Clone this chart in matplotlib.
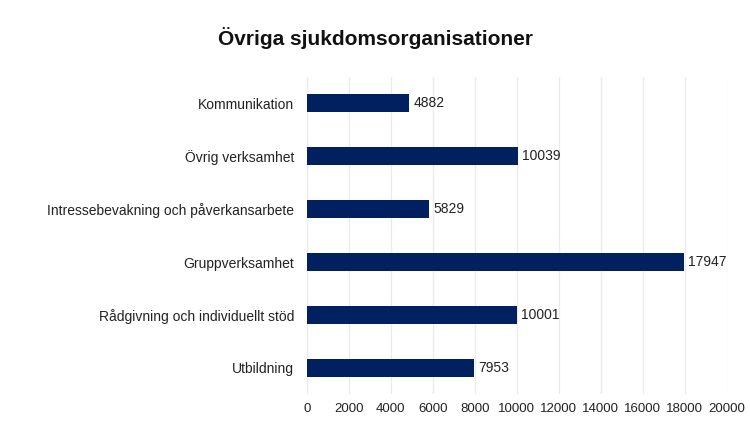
import numpy as np
import matplotlib.pyplot as plt

plt.rcParams['font.family'] = ['Liberation Sans', 'DejaVu Sans']

# Données
kategorier = ['Kommunikation', 'Övrig verksamhet', 'Intressebevakning och påverkansarbete',
              'Gruppverksamhet', 'Rådgivning och individuellt stöd', 'Utbildning']
antal = [4882, 10039, 5829, 17947, 10001, 7953]
xticks = list(range(0, 20001, 2000))

fig = plt.figure(figsize=(7.5, 4.36), dpi=100)
ax = fig.add_axes([0.409, 0.0952, 0.560, 0.7293])

y = np.arange(len(kategorier))
ax.barh(y, antal, height=0.34, color='#002060', zorder=3)
for yi, v in zip(y, antal):
    ax.text(v + 200, yi, str(v), va='center', ha='left', fontsize=10, color='#222222')

ax.set_yticks(y)
ax.set_yticklabels(kategorier, fontsize=10, color='#222222')
ax.set_ylim(len(kategorier) - 0.5, -0.5)
ax.set_xlim(0, 20000)
ax.set_xticks(xticks)
ax.set_xticklabels([str(t) for t in xticks], fontsize=9.5, color='#222222')
ax.tick_params(axis='both', length=0)
ax.tick_params(axis='y', pad=9)
ax.tick_params(axis='x', pad=6)
ax.grid(axis='x', color='#ebebeb', linewidth=1, zorder=0)
for s in ax.spines.values():
    s.set_visible(False)

fig.text(0.5, 0.912, 'Övriga sjukdomsorganisationer', ha='center', va='center',
         fontsize=15, fontweight='bold', color='#111111')

fig.savefig('out.png', dpi=100)
